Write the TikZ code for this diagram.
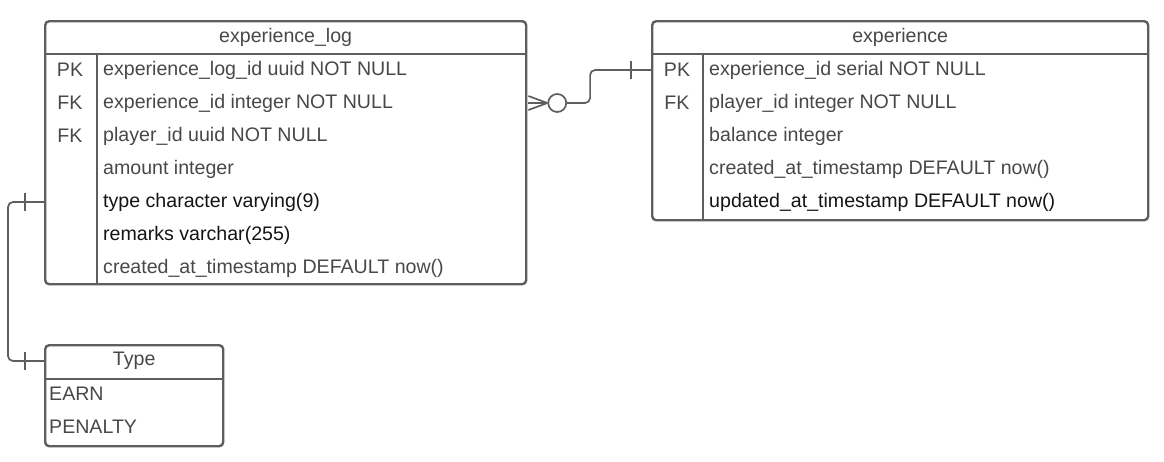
\documentclass[tikz,border=0pt]{standalone}
\usepackage{fontspec}
\setmainfont{Liberation Sans}
\usetikzlibrary{positioning, calc}

\definecolor{linegray}{HTML}{5E5E5E}
\definecolor{textgray}{HTML}{484848}
\definecolor{textdark}{HTML}{141414}

\begin{document}
\begin{tikzpicture}[
    x=1pt, y=-1pt,
    font=\fontsize{19.6}{22}\selectfont,
    table/.style={
        draw=linegray, line width=2.4pt, rounded corners=4pt,
        anchor=north west, inner sep=0pt
    },
    sep/.style={draw=linegray, line width=2.4pt},
    title/.style={anchor=center, inner sep=0pt, text=textgray},
    keytxt/.style={anchor=center, inner sep=0pt, text=textgray},
    rowtxt/.style={anchor=west, inner sep=0pt},
    rel/.style={draw=linegray, line width=1.7pt, rounded corners=5pt},
    tick/.style={draw=linegray, line width=1.7pt}
]
\useasboundingbox (0,0) rectangle (1164,461);

% --------------------------------------------------------------------------
% Tables: frame, header rule, key column.
% --------------------------------------------------------------------------
\node[table, minimum width=481pt, minimum height=263pt] (log) at (44,20) {};
\node[table, minimum width=496pt, minimum height=199pt] (exp) at (651,20) {};
\node[table, minimum width=178pt, minimum height=101pt] (type) at (44,344) {};

\draw[sep] ($(log.north west)+(0,34)$) -- ($(log.north east)+(0,34)$);
\draw[sep] ($(log.north west)+(53,34)$) -- ($(log.south west)+(53,0)$);
\draw[sep] ($(exp.north west)+(0,34)$) -- ($(exp.north east)+(0,34)$);
\draw[sep] ($(exp.north west)+(52,34)$) -- ($(exp.south west)+(52,0)$);
\draw[sep] ($(type.north west)+(0,35)$) -- ($(type.north east)+(0,35)$);

\node[title] (logtitle) at ($(log.north)+(0,17)$) {experience\_log};
\node[title] (exptitle) at ($(exp.north)+(0,17)$) {experience};
\node[title] (typetitle) at ($(type.north)+(0,17)$) {Type};

% Rows of experience_log.
\foreach \i/\k/\t/\c in {
    1/PK/experience\_log\_id uuid NOT NULL/textgray,
    2/FK/experience\_id integer NOT NULL/textgray,
    3/FK/player\_id uuid NOT NULL/textgray,
    4//amount integer/textgray,
    5//type character varying(9)/textdark,
    6//remarks varchar(255)/textdark,
    7//created\_at\_timestamp DEFAULT now()/textgray}{
    \node[keytxt] (lkey\i) at ($(log.north west)+(26,17+33*\i)$) {\k};
    \node[rowtxt, text=\c] (lrow\i) at ($(log.north west)+(59,17+33*\i)$) {\t};
}

% Rows of experience.
\foreach \i/\k/\t/\c in {
    1/PK/experience\_id serial NOT NULL/textgray,
    2/FK/player\_id integer NOT NULL/textgray,
    3//balance integer/textgray,
    4//created\_at\_timestamp DEFAULT now()/textgray,
    5//updated\_at\_timestamp DEFAULT now()/textdark}{
    \node[keytxt] (ekey\i) at ($(exp.north west)+(26,17+33*\i)$) {\k};
    \node[rowtxt, text=\c] (erow\i) at ($(exp.north west)+(58,17+33*\i)$) {\t};
}

% Values of Type.
\foreach \i/\t in {1/EARN, 2/PENALTY}{
    \node[rowtxt, text=textgray] (trow\i) at ($(type.north west)+(5,17+33*\i)$) {\t};
}

% --------------------------------------------------------------------------
% Relations.
% --------------------------------------------------------------------------
% experience_log (many, optional) -> experience (one)
\coordinate (cftip) at ($(log.east |- lrow2)+(20,0)$);
\node[draw=linegray, line width=1.7pt, circle, minimum size=18pt, inner sep=0pt,
      right=0pt of cftip] (zero) {};
\draw[tick] ($(log.east |- lrow2)+(1,-7)$) -- (cftip);
\draw[tick] ($(log.east |- lrow2)+(1,0)$) -- (cftip);
\draw[tick] ($(log.east |- lrow2)+(1,7)$) -- (cftip);
\draw[rel] (zero.east) -- ++(23,0) |- (exp.west |- erow1);
\draw[tick] ($(exp.west |- erow1)+(-20,-9)$) -- ++(0,18);

% experience_log.type (one) -> Type (one)
\draw[rel] (log.west |- lrow5) -- ++(-36,0) |- (type.west |- typetitle);
\draw[tick] ($(log.west |- lrow5)+(-19,-9)$) -- ++(0,18);
\draw[tick] ($(type.west |- typetitle)+(-19,-9)$) -- ++(0,18);

\end{tikzpicture}
\end{document}
